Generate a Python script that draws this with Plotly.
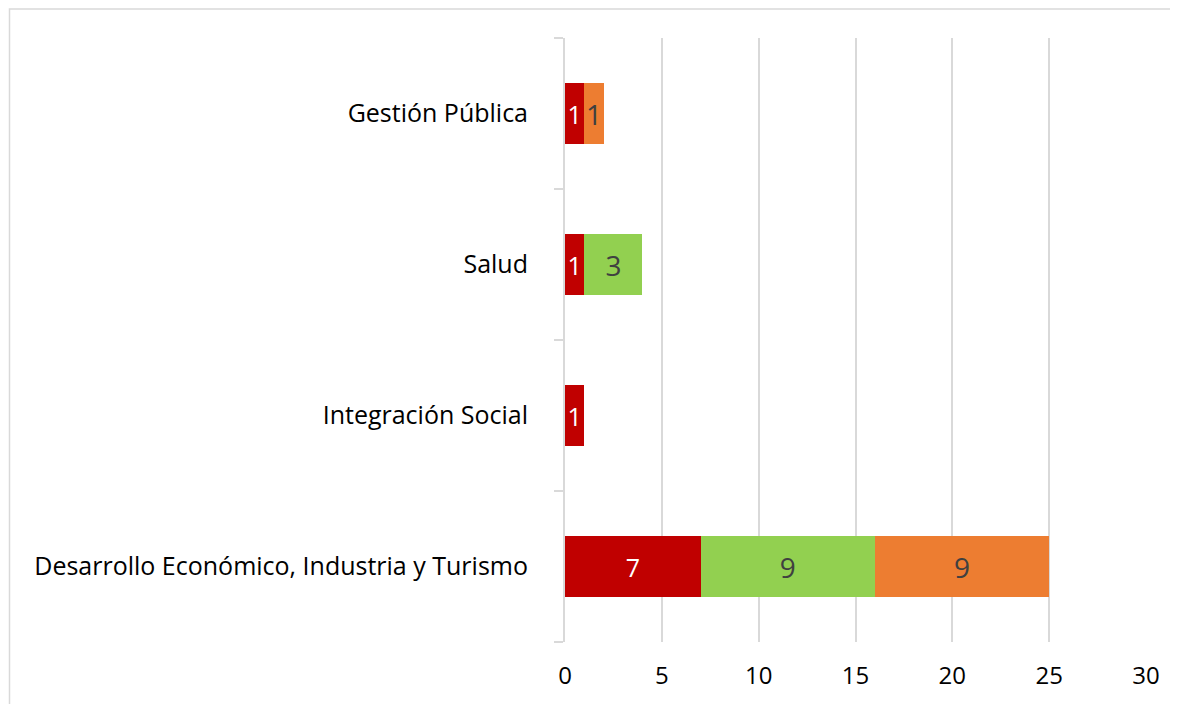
import plotly.graph_objects as go

categories = ["Desarrollo Económico, Industria y Turismo", "Integración Social", "Salud", "Gestión Pública"]
serie_roja = [7, 1, 1, 1]
serie_verde = [9, 0, 3, 0]
serie_naranja = [9, 0, 0, 1]
x_ticks = [0, 5, 10, 15, 20, 25, 30]

FONT = "Open Sans"

def labels(vals):
    return [str(v) if v else "" for v in vals]

fig = go.Figure()
for vals, color, tcol, tsize in [
    (serie_roja, "#C00000", "#FFFFFF", 25),
    (serie_verde, "#92D050", "#404040", 28),
    (serie_naranja, "#ED7D31", "#404040", 28),
]:
    fig.add_trace(go.Bar(
        y=categories, x=vals, orientation="h",
        marker=dict(color=color, line=dict(width=0)),
        text=labels(vals), textposition="inside", insidetextanchor="middle",
        textfont=dict(family=FONT, size=tsize, color=tcol),
        textangle=0, constraintext="none",
        hoverinfo="x+y",
    ))

# The page body has an 8px margin, so figure coords = screenshot coords - 8
W, H = 1178, 704
L, R, T, B = 557, 40, 30, 70
pw, ph = W - L - R, H - T - B

def px2x(px):
    return (px - L) / pw

def px2y(py):
    return (H - B - py) / ph

fig.update_layout(
    width=W, height=H,
    barmode="stack", bargap=0.6,
    showlegend=False,
    plot_bgcolor="white", paper_bgcolor="white",
    margin=dict(l=L, r=R, t=T, b=B),
    font=dict(family=FONT, color="#000000"),
    uniformtext=dict(mode=False),
    xaxis=dict(
        range=[0, 30], tickvals=x_ticks, showgrid=True, gridcolor="#D9D9D9", gridwidth=2,
        zeroline=False, showline=False, ticks="",
        tickfont=dict(family=FONT, size=24, color="#000000"),
        ticklabelstandoff=17, fixedrange=True,
    ),
    yaxis=dict(
        type="category", categoryorder="array", categoryarray=categories,
        showline=True, linecolor="#D9D9D9", linewidth=2,
        ticks="outside", tickson="boundaries", ticklen=9, tickcolor="#D9D9D9", tickwidth=2,
        showgrid=False, zeroline=False,
        tickfont=dict(family=FONT, size=25, color="#000000"),
        ticklabelstandoff=30, fixedrange=True,
    ),
    shapes=[dict(
        type="rect", xref="paper", yref="paper",
        x0=px2x(1.5), x1=px2x(1200), y0=px2y(720), y1=px2y(1),
        line=dict(color="#D9D9D9", width=1.5), fillcolor="rgba(0,0,0,0)", layer="below",
    )],
)

fig.write_html("out.html")
